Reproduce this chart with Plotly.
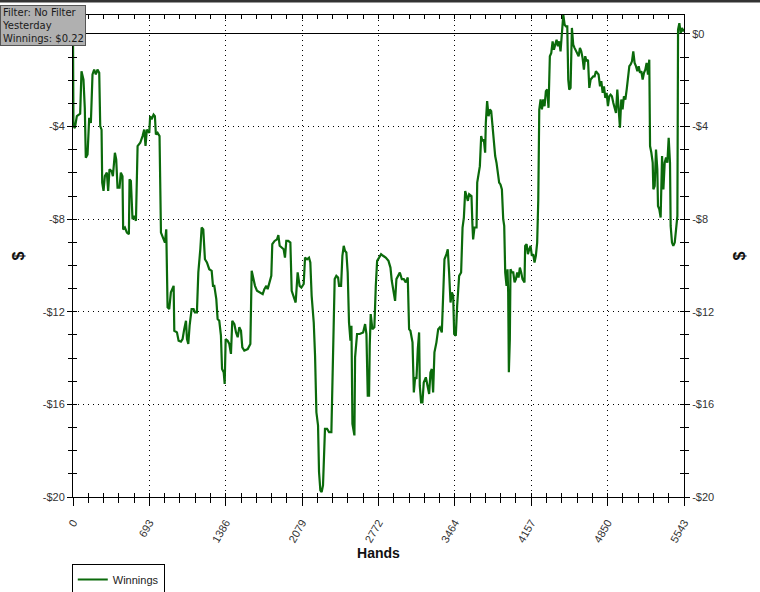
import plotly.graph_objects as go

hands = [0, 4, 17, 35, 65, 77, 95, 107, 116, 132, 147, 162, 177, 192, 207, 222, 238, 247, 259, 265, 277, 289, 307, 319, 331, 350, 362, 380, 392, 404, 422, 434, 449, 455, 471, 489, 507, 513, 525, 540, 555, 571, 586, 610, 631, 646, 658, 670, 692, 700, 713, 731, 743, 752, 767, 785, 798, 816, 834, 846, 858, 873, 888, 913, 919, 943, 958, 979, 994, 1009, 1025, 1034, 1046, 1058, 1076, 1094, 1106, 1124, 1137, 1155, 1167, 1182, 1197, 1215, 1236, 1258, 1270, 1282, 1300, 1312, 1327, 1342, 1352, 1367, 1376, 1385, 1403, 1418, 1433, 1445, 1464, 1479, 1494, 1509, 1524, 1536, 1554, 1585, 1609, 1621, 1639, 1651, 1669, 1700, 1721, 1736, 1754, 1766, 1781,
         1799, 1808, 1829, 1851, 1863, 1875, 1893, 1911, 1923, 1935, 1953, 1972, 1984, 2002, 2020, 2038, 2056, 2072, 2093, 2105, 2123, 2141, 2153, 2165, 2184, 2196, 2208, 2223, 2232, 2244, 2256, 2268, 2277, 2286, 2305, 2323, 2344, 2359, 2374, 2389, 2405, 2414, 2432, 2444, 2456, 2468, 2480, 2492, 2504, 2517, 2526, 2535, 2553, 2559, 2577, 2601, 2632, 2650, 2662, 2674, 2686, 2692, 2701, 2716, 2734, 2747, 2759, 2777, 2795, 2813, 2837, 2862, 2880, 2892, 2910, 2922, 2934, 2952, 2965, 2983, 3001, 3019, 3037, 3049, 3061, 3080, 3092, 3104, 3116, 3128, 3140, 3146, 3158, 3170, 3182, 3201, 3219, 3231, 3243, 3255, 3267, 3279, 3297, 3313, 3328, 3346, 3358, 3370, 3388, 3400, 3412, 3425, 3437, 3449, 3458, 3473, 3485, 3503, 3521, 3534, 3546, 3558, 3570, 3582, 3594,
         3615, 3624, 3630, 3642, 3661, 3667, 3679, 3691, 3703, 3715, 3727, 3739, 3745, 3757, 3770, 3782, 3794, 3806, 3818, 3830, 3842, 3854, 3866, 3878, 3891, 3903, 3912, 3921, 3933, 3942, 3948, 3954, 3963, 3969, 3981, 3994, 4006, 4018, 4030, 4042, 4054, 4066, 4078, 4096, 4102, 4115, 4127, 4139, 4151, 4163, 4175, 4187, 4199, 4211, 4221, 4230, 4242, 4254, 4266, 4278, 4290, 4302, 4314, 4326, 4339, 4351, 4363, 4375, 4387, 4399, 4411, 4423, 4435, 4448, 4460, 4472, 4484, 4493, 4502, 4514, 4526, 4538, 4550, 4563, 4575, 4587, 4599, 4611, 4623, 4635, 4647, 4659, 4672, 4684, 4696, 4708, 4720, 4732, 4744, 4756, 4768, 4781, 4793, 4805, 4817, 4829, 4841, 4853, 4865, 4877, 4889, 4902, 4914, 4926, 4938, 4950, 4962, 4974, 4986, 4998, 5011, 5023, 5035, 5047, 5059, 5071, 5083, 5095, 5107, 5120, 5132, 5144, 5156, 5168, 5180, 5192, 5204, 5216, 5228, 5235, 5247, 5259, 5265, 5277, 5289, 5301, 5307, 5319, 5331, 5344, 5356, 5368, 5380, 5392, 5404, 5416, 5422, 5434, 5446, 5459, 5471, 5483, 5489, 5501, 5513, 5525, 5537, 5543]

winnings = [0.0, -3.98, -4.06, -3.55, -3.44, -1.61, -1.97, -3.19, -5.35, -5.2, -3.62, -3.84, -1.75, -1.54, -1.75, -1.54, -1.68, -3.98, -4.13, -6.42, -6.78, -6.14, -5.99, -6.78, -5.85, -5.92, -6.14, -5.13, -5.42, -6.64, -6.64, -5.99, -6.14, -8.44, -8.36, -8.58, -8.65, -6.28, -6.35, -8.0, -7.86, -8.07, -4.84, -4.7, -4.41, -4.13, -4.84, -4.13, -4.27, -3.55, -3.69, -3.48, -3.55, -4.34, -4.27, -4.41, -8.58, -8.8, -9.01, -8.44, -11.81, -11.88, -11.16, -10.88, -12.82, -12.89, -13.25, -13.29, -13.18, -12.75, -12.39, -13.18, -13.39, -12.6, -11.88, -11.88, -12.03, -12.03, -10.3, -9.3, -8.36, -8.44, -9.73, -9.87, -10.16, -10.23, -10.88, -10.88, -11.45, -12.31, -12.39, -13.03, -14.47, -14.61, -15.12, -13.18, -13.25, -13.39, -13.82, -12.39, -12.53, -12.89, -13.1, -12.67, -12.82, -13.54, -13.68, -13.61, -13.39, -10.23, -10.59, -10.88, -11.09, -11.16, -11.24, -11.02, -10.88, -11.02, -10.73,
            -10.45, -9.08, -8.94, -8.87, -8.69, -9.15, -9.23, -9.3, -9.66, -8.94, -8.94, -9.01, -11.09, -11.31, -11.6, -10.3, -10.88, -10.95, -10.8, -9.66, -9.73, -9.66, -9.87, -11.31, -12.46, -13.9, -16.34, -16.91, -18.92, -19.71, -19.79, -19.5, -18.06, -17.06, -17.06, -17.2, -17.2, -13.61, -10.59, -10.45, -10.52, -10.88, -10.88, -9.58, -9.15, -9.37, -9.44, -10.3, -12.46, -13.25, -12.6, -16.84, -17.34, -13.97, -12.96, -12.96, -12.89, -12.53, -12.96, -15.62, -15.62, -13.46, -12.1, -12.75, -12.67, -10.88, -9.8, -9.66, -9.51, -9.58, -9.66, -9.8, -10.09, -10.66, -11.31, -11.53, -10.59, -10.45, -10.3, -10.59, -10.59, -10.73, -10.52, -12.75, -12.82, -13.32, -15.48, -14.83, -14.9, -13.61, -12.89, -15.19, -15.91, -15.91, -15.05, -14.83, -15.19, -15.55, -14.62, -14.47, -15.48, -13.75, -13.32, -12.75, -12.67, -12.89, -11.31, -9.73, -9.51, -9.3, -10.3, -11.6, -11.16, -11.31, -12.96, -13.03, -11.74, -10.45, -10.3, -8.36, -7.93, -6.78, -6.99, -7.21, -6.92,
            -7.0, -8.29, -8.87, -8.36, -8.36, -6.42, -5.99, -5.71, -4.41, -4.63, -4.56, -5.13, -3.84, -2.9, -3.55, -3.26, -3.33, -3.98, -4.7, -5.27, -5.56, -5.92, -6.42, -6.5, -6.71, -8.0, -8.29, -10.3, -10.88, -10.16, -11.16, -14.61, -13.18, -10.16, -10.3, -10.3, -10.73, -10.59, -10.3, -10.52, -10.09, -10.3, -10.59, -10.73, -9.15, -9.08, -9.51, -9.3, -9.15, -9.58, -9.51, -9.87, -9.58, -9.01, -7.14, -3.26, -2.83, -3.26, -2.83, -3.12, -2.47, -2.4, -3.19, -0.96, -0.82, -0.32, -0.68, -0.46, -0.25, -0.53, -0.32, -0.75, -0.1, 0.83, 0.4, 0.33, 0.33, -1.97, -2.4, -2.33, 0.26, -0.46, -0.6, -0.75, -0.82, -0.96, -0.6, -0.75, -1.04, -1.54, -0.96, -1.18, -1.11, -2.33, -1.97, -1.9, -1.83, -1.83, -1.61, -1.68, -1.75, -2.26, -2.04, -2.54, -2.26, -2.76, -2.54, -3.12, -2.69, -2.62, -2.69, -2.98, -3.26, -3.41, -2.4, -3.26, -4.05, -2.83, -3.26, -2.69, -2.83, -2.4, -1.75, -1.39, -1.32, -1.18, -0.75, -1.25, -1.39, -1.61, -1.39, -1.68, -1.61, -1.97, -1.68, -1.54, -1.25, -1.75, -1.11, -4.84, -5.13, -5.56, -6.71, -6.57, -4.99, -5.85, -7.43, -7.57, -7.93, -5.27, -6.71, -5.56, -5.34, -5.56, -4.48, -5.56, -8.29, -9.01, -9.15, -9.01, -8.44, -7.86, 0.19, 0.47, 0.04, 0.26, 0.11, 0.22]

x_ticks = [0, 693, 1386, 2079, 2772, 3464, 4157, 4850, 5543]
x_tick_labels = ["0", "693", "1386", "2079", "2772", "3464", "4157", "4850", "5543"]
y_ticks = [0, -4, -8, -12, -16, -20]
y_tick_labels_left = ["", "-$4", "-$8", "-$12", "-$16", "-$20"]
y_tick_labels_right = ["$0", "-$4", "-$8", "-$12", "-$16", "-$20"]
info_lines = ["Filter: No Filter", "Yesterday", "Winnings: $0.22"]

X_RANGE = [0, 5543]
Y_RANGE = [-20, 0.82]
GREEN = "#0b6a0b"
FONT = "Liberation Sans, Arial"
TICK_FONT = dict(family=FONT, size=11, color="#333333")
GRID_DASH = "1px,4px"
X_MINOR = 138.575


def ghost(xa, ya):
    return go.Scatter(x=hands, y=winnings, mode="lines", xaxis=xa, yaxis=ya,
                      line=dict(color="rgba(0,0,0,0)", width=0), showlegend=False,
                      hoverinfo="skip")


def inside_y(side, anchor):
    return dict(range=Y_RANGE, overlaying="y", side=side, anchor=anchor,
                tickmode="array", tickvals=y_ticks, showticklabels=False, automargin=False,
                showline=False, ticks="inside", ticklen=4, tickcolor="black",
                minor=dict(dtick=1, tick0=0, ticks="inside", ticklen=4, tickcolor="black", showgrid=False),
                showgrid=False, zeroline=False)


fig = go.Figure()
fig.add_trace(go.Scatter(x=hands, y=winnings, mode="lines", name="Winnings",
                         line=dict(color=GREEN, width=2.2)))
fig.add_trace(ghost("x2", "y2"))
fig.add_trace(ghost("x3", "y3"))
fig.add_trace(ghost("x3", "y4"))

fig.update_layout(
    width=760, height=592,
    margin=dict(l=73, r=76, t=15, b=95, autoexpand=False),
    paper_bgcolor="white", plot_bgcolor="white",
    showlegend=True,
    legend=dict(orientation="h", x=-0.002, y=-0.139, xanchor="left", yanchor="top",
                bordercolor="black", borderwidth=1, bgcolor="white",
                font=dict(family=FONT, size=11, color="#222"),
                itemwidth=30, tracegroupgap=0),
    xaxis=dict(range=X_RANGE, tickmode="array", tickvals=x_ticks, ticktext=x_tick_labels,
               tickangle=-60, tickfont=dict(family=FONT, size=11, color="#333"),
               ticklabelstandoff=6, automargin=False,
               showline=True, linecolor="black", linewidth=1,
               ticks="outside", ticklen=8, tickcolor="black",
               minor=dict(dtick=X_MINOR, tick0=0, ticks="outside", ticklen=5, tickcolor="black", showgrid=False),
               showgrid=True, gridcolor="black", griddash=GRID_DASH, gridwidth=1,
               zeroline=False,
               title=dict(text="<b>Hands</b>", font=dict(family=FONT, size=14, color="#111"), standoff=4)),
    xaxis2=dict(range=X_RANGE, overlaying="x", side="top", anchor="y2",
                tickmode="array", tickvals=x_ticks, showticklabels=False, automargin=False,
                showline=True, linecolor="black", linewidth=1,
                ticks="inside", ticklen=4, tickcolor="black",
                minor=dict(dtick=X_MINOR, tick0=0, ticks="inside", ticklen=4, tickcolor="black", showgrid=False),
                showgrid=False, zeroline=False),
    xaxis3=dict(range=X_RANGE, overlaying="x", side="bottom", anchor="y3",
                tickmode="array", tickvals=x_ticks, showticklabels=False, automargin=False,
                showline=False, ticks="inside", ticklen=4, tickcolor="black",
                minor=dict(dtick=X_MINOR, tick0=0, ticks="inside", ticklen=4, tickcolor="black", showgrid=False),
                showgrid=False, zeroline=False),
    yaxis=dict(range=Y_RANGE, tickmode="array", tickvals=y_ticks, ticktext=y_tick_labels_left,
               tickfont=TICK_FONT, automargin=False,
               showline=True, linecolor="black", linewidth=1,
               ticks="outside", ticklen=5, tickcolor="black",
               minor=dict(dtick=1, tick0=0, ticks="outside", ticklen=4, tickcolor="black", showgrid=False),
               showgrid=True, gridcolor="black", griddash=GRID_DASH, gridwidth=1,
               zeroline=True, zerolinecolor="black", zerolinewidth=1,
               title=dict(text="<b>$</b>", font=dict(family=FONT, size=16, color="#111"), standoff=14)),
    yaxis2=dict(range=Y_RANGE, overlaying="y", side="right", anchor="x2",
                tickmode="array", tickvals=y_ticks, ticktext=y_tick_labels_right,
                tickfont=TICK_FONT, automargin=False,
                showline=True, linecolor="black", linewidth=1,
                ticks="outside", ticklen=5, tickcolor="black",
                minor=dict(dtick=1, tick0=0, ticks="outside", ticklen=4, tickcolor="black", showgrid=False),
                showgrid=False, zeroline=False,
                title=dict(text="<b>$</b>", font=dict(family=FONT, size=16, color="#111"), standoff=20)),
    yaxis3=inside_y("left", "x3"),
    yaxis4=inside_y("right", "x3"),
)

fig.add_shape(type="line", xref="paper", yref="paper", x0=-0.13, x1=1.13, y0=1.029, y1=1.029,
              line=dict(color="#333333", width=3))

fig.add_annotation(xref="paper", yref="paper", x=-0.1195, y=1.021, xanchor="left", yanchor="top",
                   text="<br>".join(info_lines), align="left", showarrow=False,
                   font=dict(family="DejaVu Sans", size=10, color="#1a1a1a"),
                   bgcolor="#b0b0b0", bordercolor="#555555", borderwidth=1, borderpad=1)

fig.write_html("out.html", config={"displayModeBar": False},
               post_script="document.body.style.margin='0px';")
